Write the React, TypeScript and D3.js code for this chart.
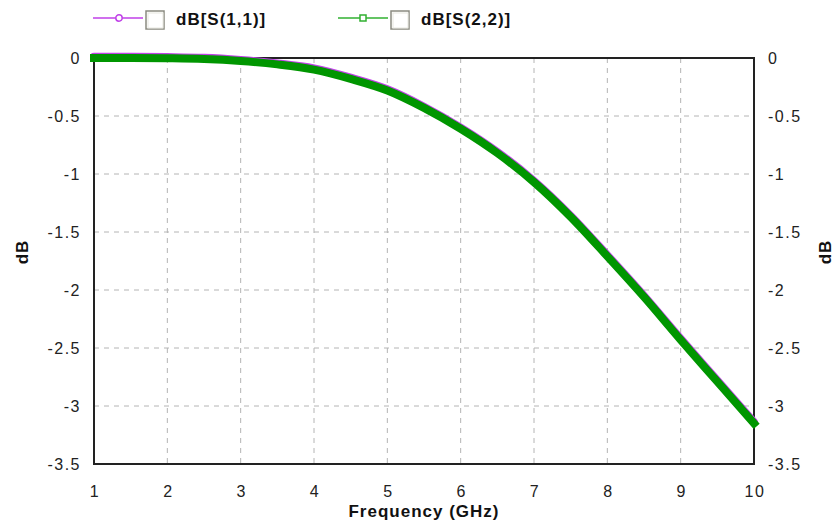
import React, { useRef, useEffect } from "react";
import * as d3 from "d3";

// frequency sweep (GHz) and the two return-loss traces
const freqs = [1, 1.5, 2, 2.5, 3, 3.5, 4, 4.5, 5, 5.5, 6, 6.5, 7, 7.5, 8, 8.5, 9, 9.5, 10];
const s11 = [0.01, 0.01, 0.008, 0.002, -0.017, -0.047, -0.09, -0.17, -0.27, -0.42, -0.6, -0.81, -1.06, -1.36, -1.7, -2.05, -2.42, -2.78, -3.14];
const s22 = [0, 0, -0.002, -0.008, -0.025, -0.055, -0.1, -0.18, -0.28, -0.43, -0.61, -0.82, -1.07, -1.37, -1.71, -2.06, -2.43, -2.79, -3.15];

const xTicks = [1, 2, 3, 4, 5, 6, 7, 8, 9, 10];
const yTicks = [0, -0.5, -1, -1.5, -2, -2.5, -3, -3.5];
const seriesNames = ["dB[S(1,1)]", "dB[S(2,2)]"];

const W = 836;
const H = 522;
const FONT = "'Liberation Sans', Arial, sans-serif";

const App = () => {
  const ref = useRef<SVGSVGElement>(null);

  useEffect(() => {
    const svg = d3.select(ref.current);
    svg.selectAll("*").remove();

    const left = 94;
    const right = 754;
    const top = 58;
    const bottom = 464;

    const x = d3.scaleLinear().domain([1, 10]).range([left, right]);
    const y = d3.scaleLinear().domain([0, -3.5]).range([top, bottom]);

    svg.append("rect").attr("width", W).attr("height", H).attr("fill", "#fff");

    // dashed grid
    const grid = svg.append("g").attr("stroke", "#b4b4b4").attr("stroke-dasharray", "5,5").attr("stroke-width", 1);
    xTicks.slice(1, -1).forEach((t) => {
      grid.append("line").attr("x1", x(t)).attr("x2", x(t)).attr("y1", top).attr("y2", bottom);
    });
    yTicks.slice(1, -1).forEach((t) => {
      grid.append("line").attr("x1", left).attr("x2", right).attr("y1", y(t)).attr("y2", y(t));
    });

    // frame
    svg
      .append("rect")
      .attr("x", left)
      .attr("y", top)
      .attr("width", right - left)
      .attr("height", bottom - top)
      .attr("fill", "none")
      .attr("stroke", "#222")
      .attr("stroke-width", 2);

    // tick labels
    const lab = svg
      .append("g")
      .attr("font-family", FONT)
      .attr("font-size", 16)
      .attr("letter-spacing", 1.5)
      .attr("fill", "#222");
    yTicks.forEach((t) => {
      lab.append("text").attr("x", left - 13).attr("y", y(t) + 6).attr("text-anchor", "end").text(String(t));
      lab.append("text").attr("x", right + 14).attr("y", y(t) + 6).text(String(t));
    });
    xTicks.forEach((t) => {
      lab.append("text").attr("x", x(t) + 1).attr("y", bottom + 33).attr("text-anchor", "middle").text(String(t));
    });

    // axis titles
    const title = svg
      .append("g")
      .attr("font-family", FONT)
      .attr("font-size", 17)
      .attr("font-weight", "bold")
      .attr("letter-spacing", 1)
      .attr("fill", "#111");
    title.append("text").attr("x", 424).attr("y", 517).attr("text-anchor", "middle").text("Frequency (GHz)");
    title.append("text").attr("transform", "translate(28,252) rotate(-90)").attr("text-anchor", "middle").text("dB");
    title.append("text").attr("transform", "translate(831,252) rotate(-90)").attr("text-anchor", "middle").text("dB");

    // traces
    const line = d3
      .line<number>()
      .x((_, i) => x(freqs[i]))
      .y((d) => y(d))
      .curve(d3.curveMonotoneX);

    svg
      .append("path")
      .datum(s11)
      .attr("fill", "none")
      .attr("stroke", "#c040e8")
      .attr("stroke-width", 8)
      .attr("stroke-linecap", "round")
      .attr("d", line);

    svg
      .append("path")
      .datum(s22)
      .attr("fill", "none")
      .attr("stroke", "#009600")
      .attr("stroke-width", 8)
      .attr("stroke-linecap", "square")
      .attr("d", line);

    // legend
    const colors = ["#c040e8", "#30b030"];
    const lx = [93, 338];
    seriesNames.forEach((name, i) => {
      const g = svg.append("g").attr("transform", `translate(${lx[i]},18)`);
      g.append("line").attr("x1", 0).attr("x2", 50).attr("y1", 0).attr("y2", 0).attr("stroke", colors[i]).attr("stroke-width", 1.5);
      if (i === 0) {
        g.append("circle").attr("cx", 26).attr("cy", 0).attr("r", 3.2).attr("fill", "#fff").attr("stroke", colors[i]).attr("stroke-width", 1.5);
      } else {
        g.append("rect").attr("x", 22).attr("y", -3).attr("width", 6).attr("height", 6).attr("fill", "#fff").attr("stroke", colors[i]).attr("stroke-width", 1.5);
      }
      // checkbox
      g.append("rect").attr("x", 53).attr("y", -7).attr("width", 18).attr("height", 18).attr("fill", "#fff").attr("stroke", "#8a8a80").attr("stroke-width", 1.5);
      g.append("rect").attr("x", 55).attr("y", -5).attr("width", 15).attr("height", 15).attr("fill", "none").attr("stroke", "#e8e8e0").attr("stroke-width", 1);
      g.append("text")
        .attr("x", 83)
        .attr("y", 7)
        .attr("font-family", FONT)
        .attr("font-size", 17)
        .attr("font-weight", "bold")
        .attr("letter-spacing", 1)
        .attr("fill", "#111")
        .text(name);
    });
  }, []);

  return <svg ref={ref} width={W} height={H} style={{ position: "absolute", left: 0, top: 0 }} />;
};

export default App;
